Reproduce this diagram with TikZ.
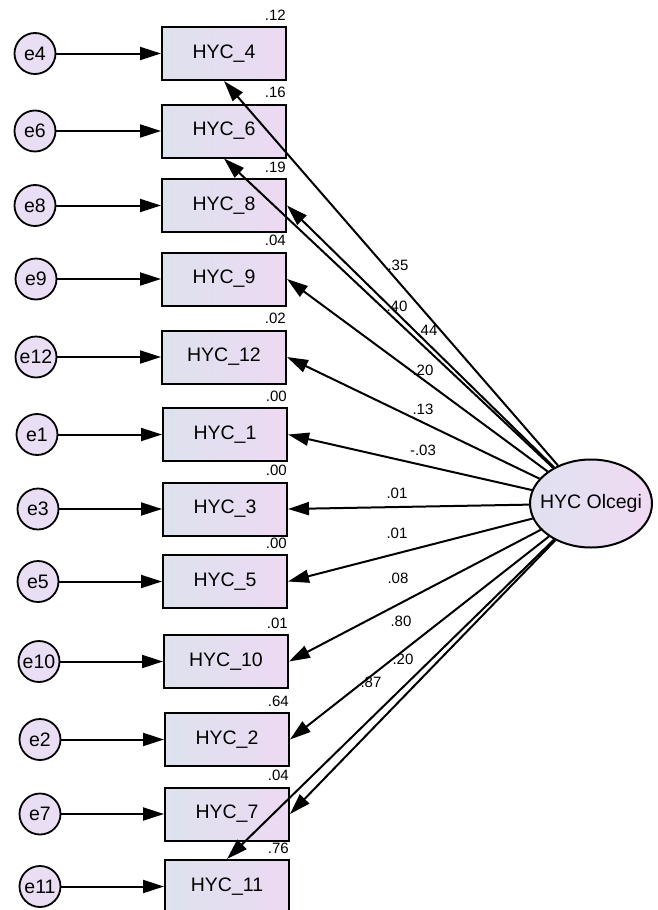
\documentclass[tikz,border=0pt]{standalone}
\usepackage{fontspec}
\setmainfont{Liberation Sans}
\usetikzlibrary{shapes.geometric, positioning, arrows.meta, calc}
\definecolor{boxleft}{RGB}{221,226,237}
\definecolor{boxright}{RGB}{237,217,243}
\definecolor{errfill}{RGB}{233,222,243}
\definecolor{latleft}{RGB}{224,225,240}
\definecolor{latright}{RGB}{240,218,243}
\tikzset{
    obsbox/.style={draw, line width=2pt, minimum width=124pt, minimum height=53pt, inner sep=0pt,
        left color=boxleft, right color=boxright, font=\fontsize{19.5}{22}\selectfont},
    errcirc/.style={circle, draw, line width=1.8pt, minimum size=41pt, inner sep=0pt,
        fill=errfill, font=\fontsize{19.5}{22}\selectfont},
    latent/.style={ellipse, draw, line width=2pt, minimum width=122pt, minimum height=88pt,
        inner xsep=-15pt, inner ysep=0pt,
        left color=latleft, right color=latright, font=\fontsize{19.5}{22}\selectfont},
    loading/.style={-{Triangle[length=21pt,width=13pt]}, line width=2pt},
    coef/.style={font=\fontsize{15}{17}\selectfont, inner sep=0pt},
    rsq/.style={coef, anchor=base east}
}

\begin{document}
\begin{tikzpicture}[x=1pt, y=-1pt]
    \path[fill=white, use as bounding box] (0,0) rectangle (657,910);

    % Observed variables
    \node[obsbox] (hyc4) at (224,53.5) {HYC\_4};
    \node[obsbox] (hyc6) at (224,131) {HYC\_6};
    \node[obsbox] (hyc8) at (224,205.5) {HYC\_8};
    \node[obsbox] (hyc9) at (224,279) {HYC\_9};
    \node[obsbox] (hyc12) at (224,357) {HYC\_12};
    \node[obsbox] (hyc1) at (225,434.5) {HYC\_1};
    \node[obsbox] (hyc3) at (225,509) {HYC\_3};
    \node[obsbox] (hyc5) at (225,581.5) {HYC\_5};
    \node[obsbox] (hyc10) at (226,661.5) {HYC\_10};
    \node[obsbox] (hyc2) at (227,739.5) {HYC\_2};
    \node[obsbox] (hyc7) at (227,814) {HYC\_7};
    \node[obsbox] (hyc11) at (227,886.5) {HYC\_11};

    % Error terms
    \node[errcirc] (e4) at (35,53.5) {e4};
    \node[errcirc] (e6) at (35,131) {e6};
    \node[errcirc] (e8) at (35,205.5) {e8};
    \node[errcirc] (e9) at (36,279) {e9};
    \node[errcirc] (e12) at (36,357) {e12};
    \node[errcirc] (e1) at (37,434.5) {e1};
    \node[errcirc] (e3) at (38,509) {e3};
    \node[errcirc] (e5) at (38,581.5) {e5};
    \node[errcirc] (e10) at (39,661.5) {e10};
    \node[errcirc] (e2) at (40,739.5) {e2};
    \node[errcirc] (e7) at (40,814) {e7};
    \node[errcirc] (e11) at (40,886.5) {e11};

    % Latent factor
    \node[latent] (olcegi) at (591,503.5) {HYC Olcegi};

    % Error paths
    \draw[loading] (e4) -- (hyc4);
    \draw[loading] (e6) -- (hyc6);
    \draw[loading] (e8) -- (hyc8);
    \draw[loading] (e9) -- (hyc9);
    \draw[loading] (e12) -- (hyc12);
    \draw[loading] (e1) -- (hyc1);
    \draw[loading] (e3) -- (hyc3);
    \draw[loading] (e5) -- (hyc5);
    \draw[loading] (e10) -- (hyc10);
    \draw[loading] (e2) -- (hyc2);
    \draw[loading] (e7) -- (hyc7);
    \draw[loading] (e11) -- (hyc11);

    % Factor loadings
    \draw[loading] (olcegi) -- (hyc4.south);
    \draw[loading] (olcegi) -- (hyc6.south);
    \draw[loading] (olcegi) -- (hyc8.east);
    \draw[loading] (olcegi) -- (hyc9.east);
    \draw[loading] (olcegi) -- (hyc12.east);
    \draw[loading] (olcegi) -- (hyc1.east);
    \draw[loading] (olcegi) -- (hyc3.east);
    \draw[loading] (olcegi) -- (hyc5.east);
    \draw[loading] (olcegi) -- (hyc10.east);
    \draw[loading] (olcegi) -- (hyc2.east);
    \draw[loading] (olcegi) -- (hyc7.east);
    \draw[loading] (olcegi) -- (hyc11.north);

    % Standardized weights
    \node[coef] (w4) at (398,265) {.35};
    \node[coef] (w6) at (397,306) {.40};
    \node[coef] (w8) at (427,330) {.44};
    \node[coef] (w9) at (423,370) {.20};
    \node[coef] (w12) at (423,409) {.13};
    \node[coef] (w1) at (423,450) {-.03};
    \node[coef] (w3) at (397,493) {.01};
    \node[coef] (w5) at (397,533) {.01};
    \node[coef] (w10) at (398,578) {.08};
    \node[coef] (w2) at (401,621) {.80};
    \node[coef] (w7) at (403,659) {.20};
    \node[coef] (w11) at (371,682) {.87};

    % Squared multiple correlations
    \node[rsq] (r4) at ([xshift=-1pt,yshift=6pt]hyc4.north east) {.12};
    \node[rsq] (r6) at ([xshift=-1pt,yshift=6pt]hyc6.north east) {.16};
    \node[rsq] (r8) at ([xshift=-1pt,yshift=6pt]hyc8.north east) {.19};
    \node[rsq] (r9) at ([xshift=-1pt,yshift=6pt]hyc9.north east) {.04};
    \node[rsq] (r12) at ([xshift=-1pt,yshift=6pt]hyc12.north east) {.02};
    \node[rsq] (r1) at ([xshift=-1pt,yshift=6pt]hyc1.north east) {.00};
    \node[rsq] (r3) at ([xshift=-1pt,yshift=6pt]hyc3.north east) {.00};
    \node[rsq] (r5) at ([xshift=-1pt,yshift=6pt]hyc5.north east) {.00};
    \node[rsq] (r10) at ([xshift=-1pt,yshift=6pt]hyc10.north east) {.01};
    \node[rsq] (r2) at ([xshift=-1pt,yshift=6pt]hyc2.north east) {.64};
    \node[rsq] (r7) at ([xshift=-1pt,yshift=6pt]hyc7.north east) {.04};
    \node[rsq] (r11) at ([xshift=-1pt,yshift=6pt]hyc11.north east) {.76};
\end{tikzpicture}
\end{document}
